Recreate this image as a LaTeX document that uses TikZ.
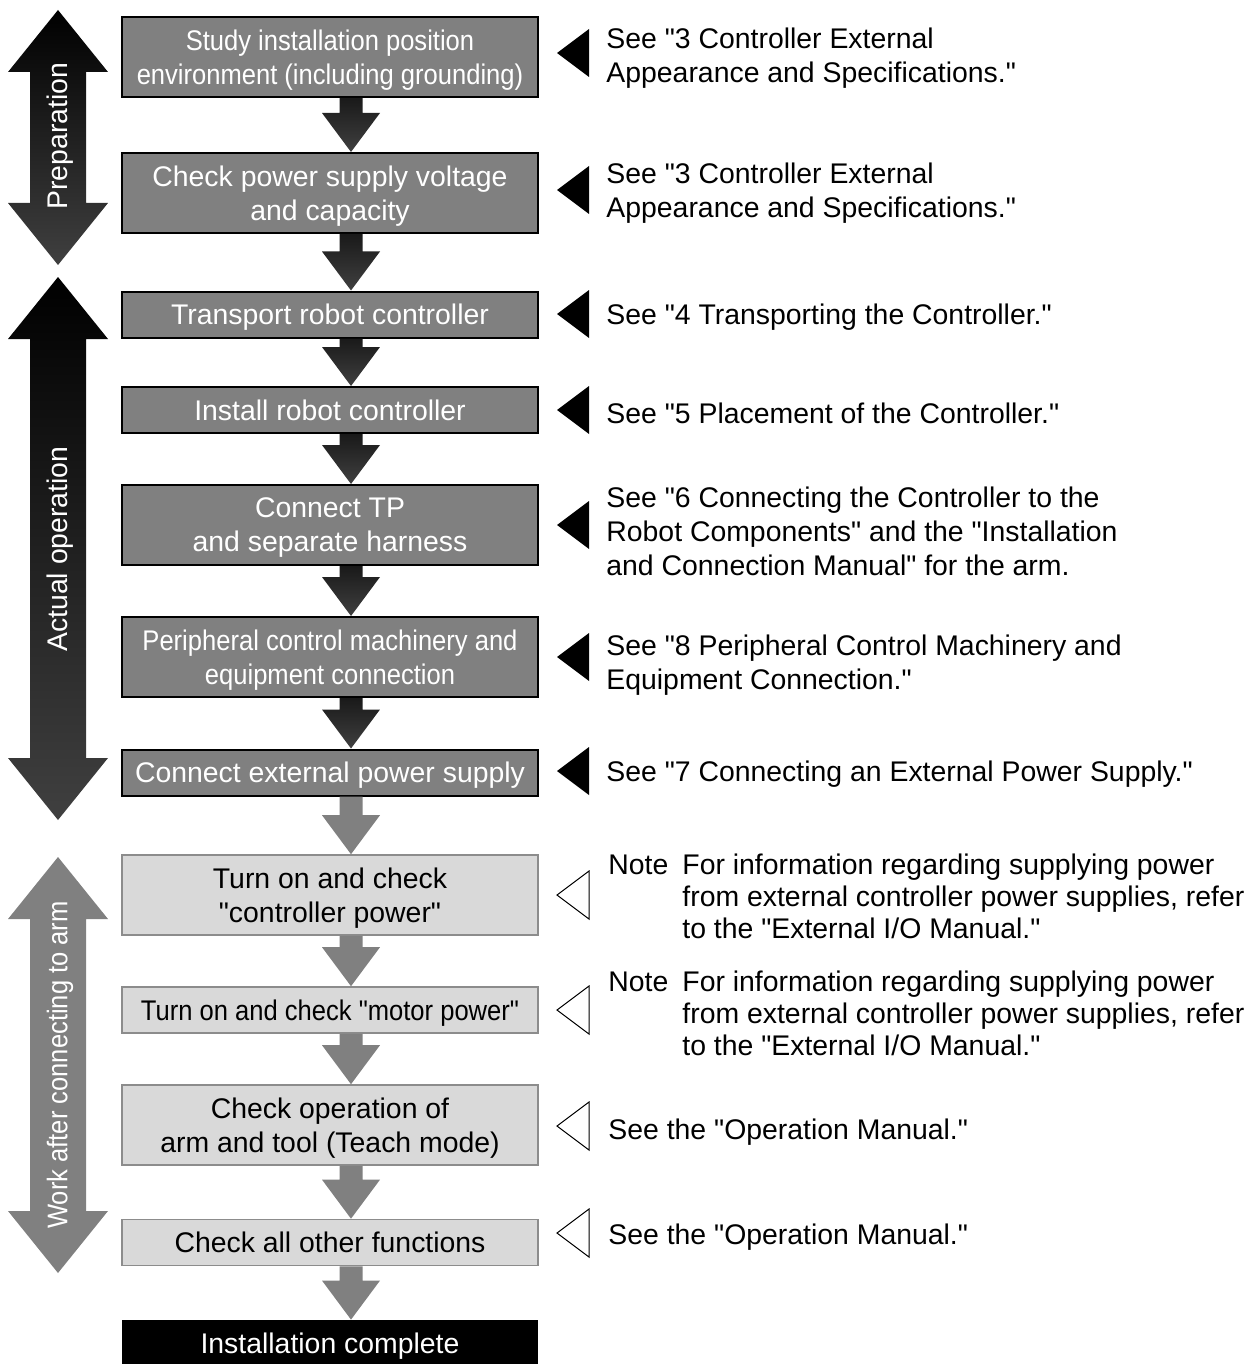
\documentclass[tikz,border=0pt]{standalone}
\usepackage{fontspec}
\setmainfont{Liberation Sans}[Ligatures=TeXOff]
\usepackage{graphicx}
\usetikzlibrary{calc, positioning}

\newcommand{\squeeze}[1]{\scalebox{0.9}[1]{#1}}

% arrow from the bottom of one step to the top of the next
\newcommand{\flowarrow}[3]{%
  \path[#3] let \p1=(#1.south), \p2=(#2.north) in
    (\x1+4.75pt,\y1) -- (\x1+16.25pt,\y1) -- (\x1+16.25pt,\y2+19.5pt)
    -- (\x1+25pt,\y2+19.5pt) -- (\x1+10.5pt,\y2) -- (\x1-4pt,\y2+19.5pt)
    -- (\x1+4.75pt,\y2+19.5pt) -- cycle;}

% double arrow on the left, from top tip to bottom tip
\newcommand{\sidearrow}[3]{%
  \path[#3] (58,#1) -- (108,#1+62) -- (86,#1+62) -- (86,#2-62) -- (108,#2-62)
    -- (58,#2) -- (8,#2-62) -- (30,#2-62) -- (30,#1+62) -- (8,#1+62) -- cycle;}

% triangle pointing at a step
\newcommand{\pointer}[2]{%
  \path[#2] (557,#1) -- (589,#1-24) -- (589,#1+24) -- cycle;}

\begin{document}
\begin{tikzpicture}[x=0.5pt, y=-0.5pt, line join=miter,
  every node/.style={font=\fontsize{14.2}{17}\selectfont, inner sep=0pt},
  darkstep/.style={draw=black, line width=1pt, fill=black!50, text=white,
    minimum width=208pt, align=center, text depth=0pt},
  lightstep/.style={draw=black!45, line width=0.8pt, fill=black!15, text=black,
    minimum width=208pt, align=center, text depth=0pt},
  donestep/.style={fill=black, text=white, minimum width=208pt, align=center,
    text depth=0pt},
  tall/.style={minimum height=40pt},
  short/.style={minimum height=23pt},
  darkflow/.style={top color=black!90, bottom color=black!75},
  greyflow/.style={fill=black!50},
  sidelabel/.style={text=white, rotate=90},
  reftext/.style={anchor=west, align=left, text depth=0pt},
  notetext/.style={anchor=west, align=left, text depth=0pt,
    font=\fontsize{14.2}{16}\selectfont},
  solidpointer/.style={fill=black},
  hollowpointer/.style={draw=black, line width=0.5pt, fill=white}]

\useasboundingbox (0,0) rectangle (1255,1364);

% Phases on the left
\sidearrow{10}{265}{top color=black, bottom color=black!75}
\sidearrow{277}{820}{top color=black, bottom color=black!75}
\sidearrow{857}{1273}{fill=black!50}
\node[sidelabel] (prep) at (60,136) {Preparation};
\node[sidelabel] (actual) at (60,549) {Actual operation};
\node[sidelabel] (work) at (60,1065) {\squeeze{Work after connecting to arm}};

% Steps
\node[darkstep, tall] (study) at (330,57)
  {\squeeze{Study installation position}\\\squeeze{environment (including grounding)}};
\node[darkstep, tall] (supply) at (330,193) {Check power supply voltage\\and capacity};
\node[darkstep, short] (transport) at (330,314.5) {Transport robot controller};
\node[darkstep, short] (install) at (330,410) {Install robot controller};
\node[darkstep, tall] (harness) at (330,525) {Connect TP\\and separate harness};
\node[darkstep, tall] (periph) at (330,657)
  {\squeeze{Peripheral control machinery and}\\\squeeze{equipment connection}};
\node[darkstep, short] (extpower) at (330,772.5) {Connect external power supply};
\node[lightstep, tall] (ctrlpower) at (330,895) {Turn on and check\\"controller power"};
\node[lightstep, short] (motorpower) at (330,1010) {\squeeze{Turn on and check "motor power"}};
\node[lightstep, tall] (teach) at (330,1125) {Check operation of\\arm and tool (Teach mode)};
\node[lightstep, short] (others) at (330,1242.5) {Check all other functions};
\node[donestep, short] (done) at (330,1343) {Installation complete};

% Flow between steps
\flowarrow{study}{supply}{darkflow}
\flowarrow{supply}{transport}{darkflow}
\flowarrow{transport}{install}{darkflow}
\flowarrow{install}{harness}{darkflow}
\flowarrow{harness}{periph}{darkflow}
\flowarrow{periph}{extpower}{darkflow}
\flowarrow{extpower}{ctrlpower}{greyflow}
\flowarrow{ctrlpower}{motorpower}{greyflow}
\flowarrow{motorpower}{teach}{greyflow}
\flowarrow{teach}{others}{greyflow}
\flowarrow{others}{done}{greyflow}

% References on the right
\pointer{53}{solidpointer}
\pointer{190}{solidpointer}
\pointer{314}{solidpointer}
\pointer{410}{solidpointer}
\pointer{525}{solidpointer}
\pointer{657}{solidpointer}
\pointer{771}{solidpointer}
\pointer{895}{hollowpointer}
\pointer{1010}{hollowpointer}
\pointer{1126}{hollowpointer}
\pointer{1233}{hollowpointer}

\node[reftext] (ref1) at (606,55) {See "3 Controller External\\Appearance and Specifications."};
\node[reftext] (ref2) at (606,190) {See "3 Controller External\\Appearance and Specifications."};
\node[reftext] (ref3) at (606,314) {See "4 Transporting the Controller."};
\node[reftext] (ref4) at (606,413) {See "5 Placement of the Controller."};
\node[reftext] (ref5) at (606,531) {See "6 Connecting the Controller to the\\Robot Components" and the "Installation\\and Connection Manual" for the arm.};
\node[reftext] (ref6) at (606,662) {See "8 Peripheral Control Machinery and\\Equipment Connection."};
\node[reftext] (ref7) at (606,771) {See "7 Connecting an External Power Supply."};
\node[notetext] (note1) at (682,896) {For information regarding supplying power\\from external controller power supplies, refer\\to the "External I/O Manual."};
\node[anchor=base west] (notehead1) at (608,874) {Note};
\node[notetext] (note2) at (682,1013) {For information regarding supplying power\\from external controller power supplies, refer\\to the "External I/O Manual."};
\node[anchor=base west] (notehead2) at (608,991) {Note};
\node[reftext] (ref10) at (608,1129) {See the "Operation Manual."};
\node[reftext] (ref11) at (608,1234) {See the "Operation Manual."};
\end{tikzpicture}
\end{document}
